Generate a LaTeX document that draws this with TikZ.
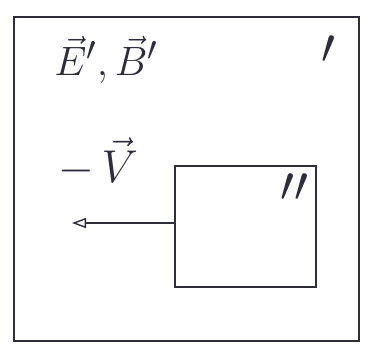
\documentclass[tikz,border=0pt]{standalone}
\usepackage{amsmath,amssymb}
\usepackage{graphicx}
\usepackage{xcolor}
\usetikzlibrary{arrows.meta,positioning}
\definecolor{ink}{RGB}{45,45,60}
\tikzset{
  frame/.style={rectangle, draw=ink, line width=1.6pt, inner sep=0pt},
  lbl/.style={text=ink, font=\Huge, inner sep=0pt},
  primelbl/.style={text=ink, font=\Huge, inner sep=0pt},
  arrow/.style={-{Triangle[open, length=14pt, width=10pt]}, line width=1.4pt, ink},
}
\begin{document}
\begin{tikzpicture}[x=1pt, y=-1pt]
  \useasboundingbox (0,0) rectangle (373,354);
  \node[frame, minimum width=345pt, minimum height=324pt] (sp) at (186.5,179) {};
  \node[frame, minimum width=141pt, minimum height=121pt] (box) at (245.5,226.5) {};
  \node[lbl] (fields) at (106,60) {\scalebox{1.65}{$\vec{E}',\vec{B}'$}};
  \node[primelbl] (p1) at (328,50) {\scalebox{2}{$\prime$}};
  \node[primelbl] (p2) at (294,188) {\scalebox{2}{$\prime\prime$}};
  \node[lbl] (vel) at (98,162) {\scalebox{1.85}{$-\,\vec{V}$}};
  \coordinate (tip) at (72,223);
  \draw[arrow] (box.west |- tip) -- (tip);
\end{tikzpicture}
\end{document}
